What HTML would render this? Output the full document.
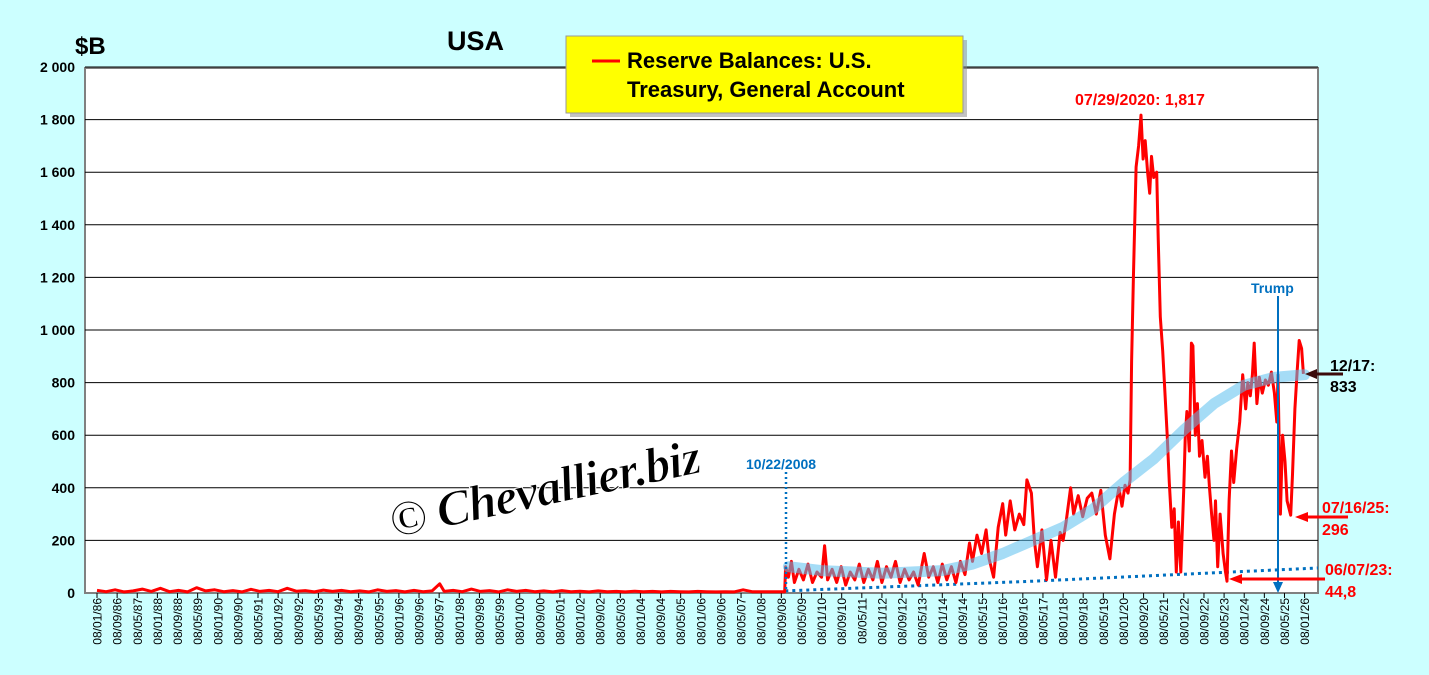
<!DOCTYPE html>
<html><head><meta charset="utf-8">
<style>
html,body{margin:0;padding:0;background:#ccffff;}
svg{display:block;font-family:"Liberation Sans",Arial,sans-serif;}
</style></head>
<body>
<svg id="chart" width="1429" height="675" viewBox="0 0 1429 675" xmlns="http://www.w3.org/2000/svg">
  <rect x="0" y="0" width="1429" height="675" fill="#ccffff"/>
  <rect x="85" y="68" width="1233" height="525" fill="#ffffff" stroke="#808080" stroke-width="2"/>
  <g id="grid"></g>
  <g id="yticks"></g>
  <g id="xticks"></g>
  <text x="75" y="54" font-size="24" font-weight="bold" fill="#000">$B</text>
  <text x="447" y="50" font-size="27" font-weight="bold" fill="#000">USA</text>
  <g transform="translate(548,505) rotate(-12)">
    <text x="0" y="0" text-anchor="middle" font-family="'Liberation Serif',serif" font-style="italic" font-weight="bold" font-size="50" letter-spacing="-1" fill="#000" stroke="#fff" stroke-width="1">© Chevallier.biz</text>
  </g>
  <g id="series"></g>
  <!-- annotations -->
  <line x1="786" y1="472" x2="786" y2="592" stroke="#0070c0" stroke-width="2.5" stroke-dasharray="2,3"/>
  <text x="746" y="469" font-size="14" font-weight="bold" fill="#0070c0">10/22/2008</text>
  <line x1="1278" y1="296" x2="1278" y2="584" stroke="#0070c0" stroke-width="2"/>
  <polygon points="1273,582 1283,582 1278,593" fill="#0070c0"/>
  <text x="1251" y="293" font-size="14" font-weight="bold" fill="#0070c0">Trump</text>
  <text x="1075" y="105" font-size="16" font-weight="bold" fill="#ff0000">07/29/2020: 1,817</text>
  <line x1="1343" y1="374" x2="1315" y2="374" stroke="#3c0a0a" stroke-width="3"/>
  <polygon points="1305,374 1317,369 1317,379" fill="#3c0a0a"/>
  <text x="1330" y="371" font-size="16" font-weight="bold" fill="#000">12/17:</text>
  <text x="1330" y="392" font-size="16" font-weight="bold" fill="#000">833</text>
  <line x1="1348" y1="517" x2="1306" y2="517" stroke="#ff0000" stroke-width="3"/>
  <polygon points="1295,517 1308,512 1308,522" fill="#ff0000"/>
  <text x="1322" y="513" font-size="16" font-weight="bold" fill="#ff0000">07/16/25:</text>
  <text x="1322" y="535" font-size="16" font-weight="bold" fill="#ff0000">296</text>
  <line x1="1325" y1="579" x2="1240" y2="579" stroke="#ff0000" stroke-width="3"/>
  <polygon points="1229,579 1242,574 1242,584" fill="#ff0000"/>
  <text x="1325" y="575" font-size="16" font-weight="bold" fill="#ff0000">06/07/23:</text>
  <text x="1325" y="597" font-size="16" font-weight="bold" fill="#ff0000">44,8</text>
  <!-- legend -->
  <g>
    <rect x="570" y="40" width="397" height="77" fill="#888" opacity="0.5"/>
    <rect x="566" y="36" width="397" height="77" fill="#ffff00" stroke="#999" stroke-width="1"/>
    <line x1="592" y1="61" x2="620" y2="61" stroke="#ff0000" stroke-width="3"/>
    <text x="627" y="68" font-size="22" font-weight="bold" fill="#000">Reserve Balances: U.S.</text>
    <text x="627" y="97" font-size="22" font-weight="bold" fill="#000">Treasury, General Account</text>
  </g>
</svg>
<script>
const yTicks = [0,200,400,600,800,1000,1200,1400,1600,1800,2000];
const yTickLabels = ["0","200","400","600","800","1 000","1 200","1 400","1 600","1 800","2 000"];
const tgaDates = [1986.0,1986.3,1986.6,1986.9,1987.2,1987.5,1987.8,1988.1,1988.4,1988.7,1989.0,1989.3,1989.6,1989.9,1990.2,1990.5,1990.8,1991.1,1991.4,1991.7,1992.0,1992.3,1992.6,1992.9,1993.2,1993.5,1993.8,1994.1,1994.4,1994.7,1995.0,1995.3,1995.6,1995.9,1996.2,1996.5,1996.8,1997.1,1997.35,1997.5,1997.8,1998.1,1998.4,1998.7,1999.0,1999.3,1999.6,1999.9,2000.2,2000.5,2000.8,2001.1,2001.4,2001.7,2002.0,2002.3,2002.6,2002.9,2003.2,2003.5,2003.8,2004.1,2004.4,2004.7,2005.0,2005.3,2005.6,2005.9,2006.2,2006.5,2006.8,2007.1,2007.4,2007.7,2008.0,2008.4,2008.78,
2008.81,2008.9,2009.0,2009.1,2009.25,2009.4,2009.55,2009.7,2009.85,2010.0,2010.1,2010.2,2010.35,2010.5,2010.65,2010.8,2010.95,2011.1,2011.25,2011.4,2011.55,2011.7,2011.85,2012.0,2012.15,2012.3,2012.45,2012.6,2012.75,2012.9,2013.05,2013.2,2013.4,2013.55,2013.7,2013.85,2014.0,2014.15,2014.3,2014.45,2014.6,2014.75,2014.9,2015.0,2015.15,2015.3,2015.45,2015.55,2015.7,2015.85,2016.0,2016.1,2016.25,2016.4,2016.55,2016.7,2016.8,2016.95,2017.05,2017.15,2017.3,2017.45,2017.6,2017.75,2017.9,2018.0,2018.1,2018.25,2018.35,2018.5,2018.65,2018.8,2018.95,2019.1,2019.25,2019.4,2019.55,2019.7,2019.85,2019.95,2020.05,2020.15,2020.22,2020.27,2020.33,2020.42,2020.5,2020.58,2020.65,2020.72,2020.8,2020.87,2020.93,2021.0,2021.1,2021.15,2021.22,2021.3,2021.38,2021.45,2021.52,2021.6,2021.68,2021.75,2021.82,2021.9,2022.0,2022.05,2022.1,2022.18,2022.25,2022.3,2022.38,2022.45,2022.52,2022.6,2022.7,2022.78,2022.85,2022.92,2023.0,2023.05,2023.12,2023.2,2023.3,2023.38,2023.43,2023.5,2023.58,2023.65,2023.75,2023.85,2023.95,2024.05,2024.12,2024.2,2024.27,2024.33,2024.42,2024.5,2024.6,2024.7,2024.8,2024.9,2025.0,2025.08,2025.12,2025.2,2025.27,2025.35,2025.42,2025.54,2025.6,2025.68,2025.75,2025.82,2025.9,2025.96];
const tgaValues = [10,5,12,4,8,15,6,18,5,10,4,20,8,12,5,9,4,14,6,10,5,18,7,9,4,11,6,10,5,8,4,12,6,9,4,10,5,8,35,6,10,5,15,6,9,4,12,6,10,5,8,4,9,5,7,4,8,5,6,4,7,5,6,4,6,5,4,6,5,4,5,4,12,5,5,5,5,
100,60,120,40,90,50,110,40,80,60,180,50,90,40,100,30,80,50,110,40,90,50,120,40,100,60,120,40,90,50,80,30,150,60,100,40,110,50,100,40,120,70,190,120,220,150,240,130,60,250,340,220,350,240,300,260,430,380,200,100,240,50,200,60,230,200,270,400,300,370,290,360,380,300,390,220,130,300,400,330,410,380,430,880,1200,1620,1700,1817,1650,1720,1600,1520,1660,1580,1600,1350,1050,920,750,600,420,250,320,80,270,80,400,600,690,540,950,940,600,720,520,580,440,520,400,300,200,350,100,300,150,80,45,350,540,420,550,650,830,700,800,750,830,950,720,820,760,810,790,840,760,650,830,300,600,500,350,296,450,700,840,960,930,833];
const trendDates = [2008.9,2010,2012,2014,2015,2016,2017,2018,2019,2020,2021,2022,2023,2024,2025,2026];
const trendValues = [100,85,75,85,110,150,200,250,320,420,510,620,720,790,820,830];
const floorDates = [2008.8,2017,2026.44];
const floorValues = [8,45,95];

const NS = "http://www.w3.org/2000/svg";
const xOf = yr => 97 + (yr - 1986) * 30.19;
const yOf = v => 593 - v * 0.263;
function mk(tag, attrs, parent){ const e = document.createElementNS(NS, tag); for (const k in attrs) e.setAttribute(k, attrs[k]); parent.appendChild(e); return e; }

const grid = document.getElementById('grid');
const yt = document.getElementById('yticks');
yTicks.forEach((v,i) => {
  if (v > 0) {
    const gl = mk('line', {x1:85, x2:1318, y1:yOf(v), y2:yOf(v), stroke:'#000', 'stroke-width':1}, grid);
    
    
  }
  const t = mk('text', {x:75, y:yOf(v)+5, 'text-anchor':'end', 'font-size':14, 'font-weight':'bold', fill:'#000'}, yt);
  t.textContent = yTickLabels[i];
  
  
});

const xt = document.getElementById('xticks');
for (let i = 0; i <= 60; i++) {
  const m = i * 8;
  const yr = 1986 + Math.floor(m / 12);
  const mo = (m % 12) + 1;
  const lbl = '08/' + String(mo).padStart(2,'0') + '/' + String(yr % 100).padStart(2,'0');
  const x = xOf(1986 + m / 12);
  mk('line', {x1:x, x2:x, y1:593, y2:598, stroke:'#000', 'stroke-width':1}, xt);
  const t = mk('text', {x:0, y:0, transform:`translate(${x+4.5},598) rotate(-90)`, 'text-anchor':'end', 'font-size':12, fill:'#000'}, xt);
  t.textContent = lbl;
  
  
}

const s = document.getElementById('series');
const pts = (ds, vs) => ds.map((d,i) => xOf(d).toFixed(1) + ',' + yOf(vs[i]).toFixed(1)).join(' ');
const fl = mk('polyline', {points:pts(floorDates, floorValues), fill:'none', stroke:'#0070c0', 'stroke-width':3, 'stroke-dasharray':'3,4'}, s);


const main = mk('polyline', {points:pts(tgaDates, tgaValues), fill:'none', stroke:'#ff0000', 'stroke-width':3, 'stroke-linejoin':'round'}, s);


const tr = mk('polyline', {points:pts(trendDates, trendValues), fill:'none', stroke:'#5bbfee', 'stroke-width':11, 'stroke-opacity':0.55, 'stroke-linecap':'round', 'stroke-linejoin':'round'}, s);


</script>
</body></html>
